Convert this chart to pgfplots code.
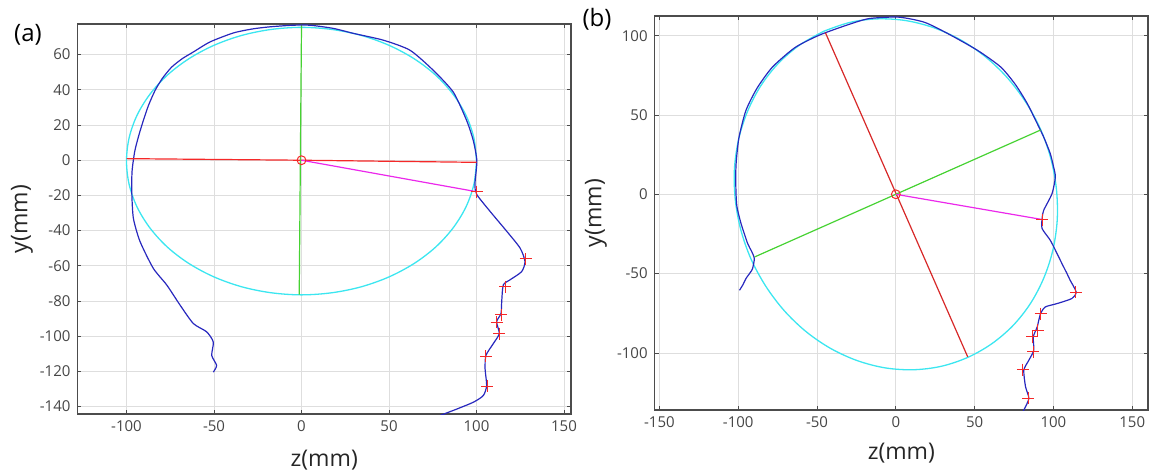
\documentclass[border=0pt]{standalone}
\usepackage{pgfplots}
\pgfplotsset{compat=1.18}
\usepackage{fontspec}
\setmainfont{Open Sans}
\definecolor{headblue}{RGB}{40,40,190}
\definecolor{fitcyan}{RGB}{60,230,240}
\definecolor{axgreen}{RGB}{70,210,50}
\definecolor{axred}{RGB}{245,40,40}
\definecolor{axredb}{RGB}{215,40,40}
\definecolor{axmag}{RGB}{235,40,235}
\definecolor{tickgrey}{RGB}{70,70,70}
\pgfplotsset{
  mystyle/.style={
    scale only axis,
    axis line style={draw=black!70, line width=0.6pt},
    grid=major,
    major grid style={draw=black!13, line width=0.4pt},
    tick align=inside, major tick length=2pt,
    tick style={draw=black!70, line width=0.4pt},
    xtick pos=both, ytick pos=both,
    xticklabel pos=bottom, yticklabel pos=left,
    tick label style={font=\fontsize{7.5}{9}\selectfont, text=tickgrey},
    /pgf/number format/assume math mode=true,
    label style={font=\fontsize{11.5}{13}\selectfont, text=black!85},
  },
  head/.style={headblue, line width=0.6pt, smooth, tension=0.4, no marks},
  fit/.style={fitcyan, line width=0.65pt, smooth, tension=0.55, no marks},
  lm/.style={only marks, mark=+, mark size=3pt, mark options={axred, line width=0.5pt}},
}
\begin{document}
\begin{tikzpicture}
\path[use as bounding box] (0,0) rectangle (575.5pt,-236pt);
\node[font=\fontsize{12}{14}\selectfont] at (14pt,-17.5pt) {(a)};
\node[font=\fontsize{12}{14}\selectfont] at (298.5pt,-9.5pt) {(b)};

% ---------------- panel (a)
\begin{axis}[mystyle,
  at={(38.75pt,-207pt)}, anchor=south west,
  width=246.75pt, height=195pt,
  xmin=-128, xmax=154, ymin=-144.2, ymax=77.4,
  xtick={-100,-50,0,50,100,150},
  ytick={-140,-120,-100,-80,-60,-40,-20,0,20,40,60},
  xlabel={z(mm)}, ylabel={y(mm)},
  xlabel style={at={(axis description cs:0.5,-0.118)}, anchor=center},
  ylabel style={at={(axis description cs:-0.1125,0.5)}, anchor=center},
]
\addplot[fit] coordinates {
(100,-0.5) (98.5,12.7) (94.0,25.5) (86.6,37.5) (76.6,48.4) (64.3,57.7) (50,65.3) (34.2,70.9) (17.4,74.3) (0,75.5)
(-17.4,74.3) (-34.2,70.9) (-50,65.3) (-64.3,57.7) (-76.6,48.4) (-86.6,37.5) (-94.0,25.5) (-98.5,12.7) (-100,-0.5)
(-98.5,-13.7) (-94.0,-26.5) (-86.6,-38.5) (-76.6,-49.4) (-64.3,-58.7) (-50,-66.3) (-34.2,-71.9) (-17.4,-75.3) (0,-76.5)
(17.4,-75.3) (34.2,-71.9) (50,-66.3) (64.3,-58.7) (76.6,-49.4) (86.6,-38.5) (94.0,-26.5) (98.5,-13.7) (100,-0.5)};
\addplot[head] coordinates {
(-50.4,-120.4) (-48.5,-116.6) (-51.3,-110.9) (-50.4,-103.3) (-54.2,-97.5) (-61.8,-92.8) (-69.4,-82.3)
(-77,-70.9) (-84.7,-61.4) (-92.3,-46.1) (-96.1,-32.8) (-97,-17.5) (-96.8,-6) (-95.3,5) (-93,14)
(-90.4,22.5) (-87.5,31) (-83.7,39.6) (-79.5,46.5) (-74.2,52.9) (-68,57.8) (-61.8,61.5) (-52.3,67.2)
(-39,72.3) (-28,74.6) (-18,75.8) (-5,76.7) (5,76.7) (18.2,74.9) (30,72) (46.8,68.2) (62,62.5)
(75.4,51) (86.8,38.6) (94.4,22.5) (98.2,11) (100.2,-0.4) (99.1,-13.7) (100.1,-19.4) (107.7,-29)
(117.3,-40.4) (124.9,-49.9) (127.7,-57.5) (125.8,-63.3) (119.1,-68) (115.3,-70.9) (114.4,-80.4)
(114,-87.1) (111.5,-91.8) (113,-98.5) (109.6,-104.2) (105.4,-110.9) (104.9,-118.5) (105.8,-128)
(103.9,-133.7) (98.2,-137.5) (88.7,-141.4) (79.1,-145.1) (76,-147)};
\addplot[axred, line width=0.6pt] coordinates {(-99.9,0.9) (0,0) (100.1,-1.2)};
\addplot[axgreen, line width=0.6pt] coordinates {(0,76.5) (-1.3,-76.4)};
\addplot[axmag, line width=0.6pt] coordinates {(0,0) (100.1,-17.9)};
\addplot[lm] coordinates {(100.1,-17.9) (128.1,-56) (116.3,-71.8) (114,-87.7) (111.5,-92.2) (113,-98.5) (105.3,-111.3) (106.2,-128.4)};
\addplot[only marks, mark=o, mark size=2.2pt, mark options={axred, line width=0.5pt}] coordinates {(0,0)};
\end{axis}

% ---------------- panel (b)
\begin{axis}[mystyle,
  at={(327.35pt,-205pt)}, anchor=south west,
  width=246.65pt, height=197pt,
  xmin=-153, xmax=160, ymin=-136, ymax=112.4,
  xtick={-150,-100,-50,0,50,100,150},
  ytick={-100,-50,0,50,100},
  xlabel={z(mm)}, ylabel={y(mm)},
  xlabel style={at={(axis description cs:0.5,-0.109)}, anchor=center},
  ylabel style={at={(axis description cs:-0.119,0.5)}, anchor=center},
]
\addplot[fit] coordinates {
(-45.7,102.8) (-29.0,108.4) (-11.5,110.6) (6.4,109.5) (24.1,105.0) (41.0,97.4) (56.7,86.8) (70.7,73.5)
(82.5,58.0) (91.9,40.8) (98.4,22.3) (101.9,3.2) (102.4,-16.1) (99.7,-34.9) (94.0,-52.5) (85.5,-68.7)
(74.4,-82.7) (60.9,-94.2) (45.7,-102.8) (29.0,-108.4) (11.5,-110.6) (-6.4,-109.5) (-24.1,-105.0)
(-41.0,-97.4) (-56.7,-86.8) (-70.7,-73.5) (-82.5,-58.0) (-91.9,-40.8) (-98.4,-22.3) (-101.9,-3.2)
(-102.4,16.1) (-99.7,34.9) (-94.0,52.5) (-85.5,68.7) (-74.4,82.7) (-60.9,94.2) (-45.7,102.8)};
\addplot[head] coordinates {
(-99.2,-60.5) (-97,-57) (-95.1,-53.1) (-92.5,-49.5) (-90.9,-46.8) (-89.8,-40.5) (-91.5,-36)
(-94,-31.1) (-98.2,-18.5) (-100.8,-8) (-101.4,0.4) (-101.6,12) (-101.2,21.4) (-99.5,36) (-95.1,52.9)
(-88,67) (-78.3,80.2) (-64,92.5) (-48.9,100.2) (-33,106) (-17.4,110.7) (1.5,111.7) (18,108.5)
(33,101.3) (51.9,90.7) (66.6,80.2) (76,69) (83.4,57.2) (88.5,47) (93.8,36.1) (98,25.6) (100.1,17.2)
(101.2,10.9) (99.1,0.4) (93.8,-10.1) (92.8,-15.3) (92.8,-21.6) (98,-29) (102.3,-37.4) (105.4,-43.7)
(108.6,-50) (110.6,-54.2) (114.4,-61.6) (111.7,-65.7) (102.3,-68.9) (94.9,-71) (91.8,-75.2)
(89.7,-83.6) (87.2,-89.9) (87.5,-98.3) (84.4,-104.6) (81.2,-110.9) (82.3,-121.4) (84.4,-128.7)
(81.2,-136.1) (80,-138)};
\addplot[axredb, line width=0.6pt] coordinates {(-44.7,101.9) (45.6,-102.5)};
\addplot[axgreen, line width=0.6pt] coordinates {(-89.6,-39.5) (91.8,40.5)};
\addplot[axmag, line width=0.6pt] coordinates {(0,0) (92.8,-15.9)};
\addplot[lm] coordinates {(92.8,-15.9) (114,-61.9) (91.8,-75.2) (90,-85.7) (86.5,-89.9) (87.2,-99.4) (80.6,-110.5) (84,-128.7)};
\addplot[only marks, mark=o, mark size=2.2pt, mark options={axred, line width=0.5pt}] coordinates {(0,0)};
\end{axis}
\end{tikzpicture}
\end{document}
